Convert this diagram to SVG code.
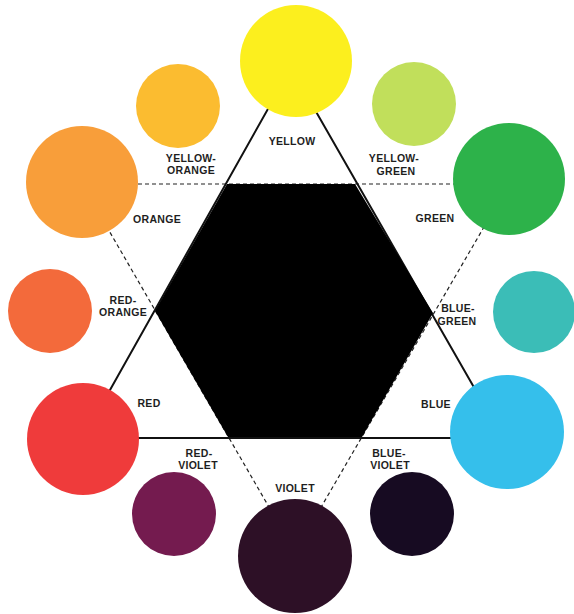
<svg xmlns="http://www.w3.org/2000/svg" width="574" height="614" viewBox="0 0 574 614">
<style>
.lbl{font-family:"Liberation Sans",Arial,sans-serif;font-size:10.5px;font-weight:bold;fill:#1e1e1e;text-anchor:middle;letter-spacing:0.3px}
.solid{stroke:#111;stroke-width:2;fill:none}
.dash{stroke:#222;stroke-width:1.2;stroke-dasharray:4 3;fill:none}
</style>
<rect width="574" height="614" fill="#ffffff"/>
<g id="connectors">
<polygon class="dash" points="82,184 509,184 295,552"/>
<polygon class="solid" points="291,68 83,438 503,438"/>
</g>
<g id="hexagon">
<polygon points="227,184 355,184 433,313 362,437 228,437 155,311" fill="#000"/>
</g>
<g id="yellow"><circle cx="296" cy="61" r="56" fill="#fcef1e"/><text class="lbl" x="292" y="145">YELLOW</text></g>
<g id="yellow-orange"><circle cx="178" cy="106" r="42" fill="#fbbc30"/><text class="lbl" x="191" y="162">YELLOW-</text><text class="lbl" x="191" y="174">ORANGE</text></g>
<g id="yellow-green"><circle cx="414" cy="104" r="42" fill="#c1df5b"/><text class="lbl" x="394" y="162">YELLOW-</text><text class="lbl" x="396" y="175">GREEN</text></g>
<g id="orange"><circle cx="82" cy="182" r="56" fill="#f89e3a"/><text class="lbl" x="157" y="223">ORANGE</text></g>
<g id="green"><circle cx="509" cy="179" r="56" fill="#2db24a"/><text class="lbl" x="435" y="222">GREEN</text></g>
<g id="red-orange"><circle cx="50" cy="311" r="42" fill="#f36a3b"/><text class="lbl" x="123" y="304">RED-</text><text class="lbl" x="123" y="316">ORANGE</text></g>
<g id="blue-green"><circle cx="534" cy="312" r="41" fill="#3bbdb7"/><text class="lbl" x="458" y="312">BLUE-</text><text class="lbl" x="457" y="325">GREEN</text></g>
<g id="red"><circle cx="83" cy="439" r="56" fill="#ef3b3b"/><text class="lbl" x="149" y="407">RED</text></g>
<g id="blue"><circle cx="507" cy="432" r="57" fill="#35bfeb"/><text class="lbl" x="436" y="408">BLUE</text></g>
<g id="red-violet"><circle cx="174" cy="514" r="42" fill="#741b4f"/><text class="lbl" x="199" y="457">RED-</text><text class="lbl" x="198" y="469">VIOLET</text></g>
<g id="blue-violet"><circle cx="412" cy="514" r="42" fill="#170b22"/><text class="lbl" x="389" y="457">BLUE-</text><text class="lbl" x="390" y="469">VIOLET</text></g>
<g id="violet"><circle cx="295" cy="556" r="57" fill="#2d1026"/><text class="lbl" x="295" y="492">VIOLET</text></g>
</svg>
